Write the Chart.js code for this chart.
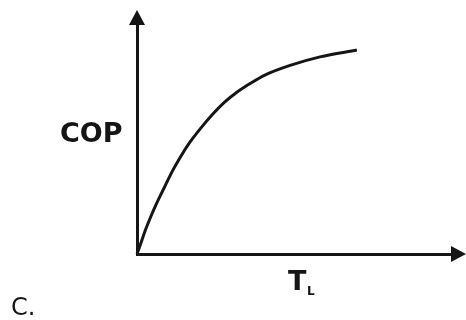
<!DOCTYPE html>
<html>
<head>
<meta charset="utf-8">
<script src="https://cdn.jsdelivr.net/npm/chart.js@4/dist/chart.umd.min.js"></script>
<style>
  html, body { margin: 0; padding: 0; background: #fff; }
</style>
</head>
<body>
<canvas id="cop-chart" width="466" height="320"></canvas>
<script>
'use strict';

// COP vs T_L curve (arbitrary units 0..100)
var tlValues = [0, 1.3, 2.5, 4.4, 6.3, 8.6, 11.1, 13.7, 16.8, 20.0, 23.8, 27.9, 31.7, 35.9, 40.6, 48.6, 58.1, 69.8];
var copValues = [0, 5.0, 9.8, 16.3, 22.2, 28.7, 35.7, 42.0, 48.6, 54.3, 60.4, 66.1, 70.3, 74.1, 77.8, 82.0, 85.7, 88.7];
var xLabel = 'T';
var xSub = 'L';
var yLabel = 'COP';
var caption = 'C.';

var ink = '#151515';

// arrows on the axis ends and the labels
var axisDecor = {
  id: 'axisDecor',
  afterDraw: function(chart) {
    var ctx = chart.ctx;
    var a = chart.chartArea;
    ctx.save();
    ctx.fillStyle = ink;
    // x arrow
    ctx.beginPath();
    ctx.moveTo(a.right - 1, a.bottom - 8);
    ctx.lineTo(a.right + 14, a.bottom);
    ctx.lineTo(a.right - 1, a.bottom + 8);
    ctx.closePath();
    ctx.fill();
    // y arrow
    ctx.beginPath();
    ctx.moveTo(a.left - 8, a.top + 1);
    ctx.lineTo(a.left, a.top - 14);
    ctx.lineTo(a.left + 8, a.top + 1);
    ctx.closePath();
    ctx.fill();

    ctx.textBaseline = 'alphabetic';
    ctx.textAlign = 'left';
    ctx.font = 'bold 27px "DejaVu Sans"';
    ctx.fillText(yLabel, 60, 142);
    ctx.fillText(xLabel, 288, 290);
    ctx.font = 'bold 12px "DejaVu Sans"';
    ctx.fillText(xSub, 307, 295);
    ctx.font = '24px "DejaVu Sans"';
    ctx.fillText(caption, 11, 315);
    ctx.restore();
  }
};

var points = tlValues.map(function(x, i) { return { x: x, y: copValues[i] }; });

var chart = new Chart(document.getElementById('cop-chart').getContext('2d'), {
  type: 'scatter',
  data: {
    datasets: [{
      data: points,
      showLine: true,
      borderColor: ink,
      borderWidth: 3,
      pointRadius: 0,
      cubicInterpolationMode: 'monotone',
      clip: false
    }]
  },
  options: {
    responsive: false,
    animation: false,
    layout: { padding: { left: 137, top: 24, right: 14, bottom: 66 } },
    plugins: { legend: { display: false }, tooltip: { enabled: false } },
    scales: {
      x: {
        type: 'linear', min: 0, max: 100,
        grid: { display: false, drawTicks: false },
        ticks: { display: false },
        border: { display: true, color: ink, width: 3 }
      },
      y: {
        type: 'linear', min: 0, max: 100,
        grid: { display: false, drawTicks: false },
        ticks: { display: false },
        border: { display: true, color: ink, width: 3 }
      }
    }
  },
  plugins: [axisDecor]
});
</script>
</body>
</html>
